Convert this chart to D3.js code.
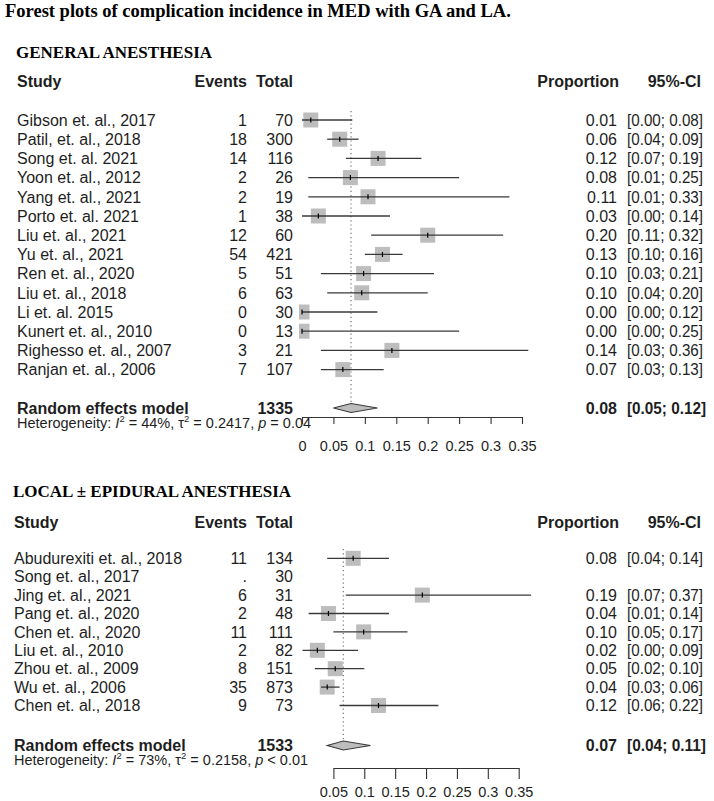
<!DOCTYPE html>
<html><head><meta charset="utf-8">
<script src="https://cdn.jsdelivr.net/npm/d3@7"></script>
<style>body{margin:0;background:#fff}svg{display:block;background:#fff}</style>
</head><body><svg id="chart" width="714" height="801"></svg>
<script>
// ---------------- DATA ----------------
const chartTitle = "Forest plots of complication incidence in MED with GA and LA.";
const colHeaders = ["Study", "Events", "Total", "Proportion", "95%-CI"];
const pooledName = "Random effects model";

// General anesthesia
const gaTitle = "GENERAL ANESTHESIA";
const gaStudies = ["Gibson et. al., 2017", "Patil, et. al., 2018", "Song et. al. 2021", "Yoon et. al., 2012", "Yang et. al., 2021", "Porto et. al. 2021", "Liu et. al., 2021", "Yu et. al., 2021", "Ren et. al., 2020", "Liu et. al., 2018", "Li et. al. 2015", "Kunert et. al., 2010", "Righesso et. al., 2007", "Ranjan et. al., 2006"];
const gaEvents = ["1", "18", "14", "2", "2", "1", "12", "54", "5", "6", "0", "0", "3", "7"];
const gaTotals = ["70", "300", "116", "26", "19", "38", "60", "421", "51", "63", "30", "13", "21", "107"];
const gaEst = [0.014, 0.060, 0.121, 0.077, 0.105, 0.026, 0.200, 0.128, 0.098, 0.095, 0.000, 0.000, 0.143, 0.065];
const gaLower = [0.00, 0.04, 0.07, 0.01, 0.01, 0.00, 0.11, 0.10, 0.03, 0.04, 0.00, 0.00, 0.03, 0.03];
const gaUpper = [0.08, 0.09, 0.19, 0.25, 0.33, 0.14, 0.32, 0.16, 0.21, 0.20, 0.12, 0.25, 0.36, 0.13];
const gaPropLabels = ["0.01", "0.06", "0.12", "0.08", "0.11", "0.03", "0.20", "0.13", "0.10", "0.10", "0.00", "0.00", "0.14", "0.07"];
const gaCILabels = ["[0.00; 0.08]", "[0.04; 0.09]", "[0.07; 0.19]", "[0.01; 0.25]", "[0.01; 0.33]", "[0.00; 0.14]", "[0.11; 0.32]", "[0.10; 0.16]", "[0.03; 0.21]", "[0.04; 0.20]", "[0.00; 0.12]", "[0.00; 0.25]", "[0.03; 0.36]", "[0.03; 0.13]"];
const gaPooledTotal = "1335";
const gaPooledEst = 0.078, gaPooledLower = 0.05, gaPooledUpper = 0.12;
const gaPooledLabel = "0.08", gaPooledCI = "[0.05; 0.12]";
const gaHetI2 = "44%", gaHetTau2 = "0.2417", gaHetP = "= 0.04";
const gaTicks = [0, 0.05, 0.1, 0.15, 0.2, 0.25, 0.3, 0.35];
const gaTickLabels = ["0", "0.05", "0.1", "0.15", "0.2", "0.25", "0.3", "0.35"];

// Local ± epidural anesthesia
const laTitle = "LOCAL ± EPIDURAL ANESTHESIA";
const laStudies = ["Abudurexiti et. al., 2018", "Song et. al., 2017", "Jing et. al., 2021", "Pang et. al., 2020", "Chen et. al., 2020", "Liu et. al., 2010", "Zhou et. al., 2009", "Wu et. al., 2006", "Chen et. al., 2018"];
const laEvents = ["11", ".", "6", "2", "11", "2", "8", "35", "9"];
const laTotals = ["134", "30", "31", "48", "111", "82", "151", "873", "73"];
const laEst = [0.082, null, 0.194, 0.042, 0.099, 0.024, 0.053, 0.040, 0.123];
const laLower = [0.04, null, 0.07, 0.01, 0.05, 0.00, 0.02, 0.03, 0.06];
const laUpper = [0.14, null, 0.37, 0.14, 0.17, 0.09, 0.10, 0.06, 0.22];
const laPropLabels = ["0.08", "", "0.19", "0.04", "0.10", "0.02", "0.05", "0.04", "0.12"];
const laCILabels = ["[0.04; 0.14]", "", "[0.07; 0.37]", "[0.01; 0.14]", "[0.05; 0.17]", "[0.00; 0.09]", "[0.02; 0.10]", "[0.03; 0.06]", "[0.06; 0.22]"];
const laPooledTotal = "1533";
const laPooledEst = 0.066, laPooledLower = 0.04, laPooledUpper = 0.11;
const laPooledLabel = "0.07", laPooledCI = "[0.04; 0.11]";
const laHetI2 = "73%", laHetTau2 = "0.2158", laHetP = "< 0.01";
const laTicks = [0.05, 0.1, 0.15, 0.2, 0.25, 0.3, 0.35];
const laTickLabels = ["0.05", "0.1", "0.15", "0.2", "0.25", "0.3", "0.35"];

// ---------------- DRAWING ----------------
const svg = d3.select("#chart");
const SANS = "'Liberation Sans', Arial, Helvetica, sans-serif";
const SERIF = "'Liberation Serif', 'Times New Roman', serif";
const TXT = "#1e1e1e";

svg.append("text").attr("x", 5).attr("y", 16.5)
  .attr("font-family", SERIF).attr("font-weight", "bold").attr("font-size", 18.5)
  .attr("fill", "#000").text(chartTitle);

function drawPanel(p, L) {
  const g = svg.append("g");
  const x = d3.scaleLinear().domain([0, 0.35]).range(L.xRange);
  const rowY = d3.scaleLinear().domain([0, 1]).range([L.row0, L.row0 + L.step]);
  const n = p.studies.length;
  const base = 5.7;

  g.append("text").attr("x", L.left - 1).attr("y", L.titleY)
    .attr("font-family", SERIF).attr("font-weight", "bold").attr("font-size", 17)
    .attr("fill", "#000").text(p.title);

  const hdr = g.append("g").attr("font-family", SANS).attr("font-weight", "bold")
    .attr("font-size", 16).attr("fill", TXT);
  hdr.append("text").attr("x", L.left).attr("y", L.headerY).text(colHeaders[0]);
  hdr.append("text").attr("x", L.evX).attr("y", L.headerY).attr("text-anchor", "end").text(colHeaders[1]);
  hdr.append("text").attr("x", L.totX).attr("y", L.headerY).attr("text-anchor", "end").text(colHeaders[2]);
  hdr.append("text").attr("x", L.propX + 2).attr("y", L.headerY).attr("text-anchor", "end").text(colHeaders[3]);
  hdr.append("text").attr("x", L.ciEnd - 2).attr("y", L.headerY).attr("text-anchor", "end").text(colHeaders[4]);

  const idx = d3.range(n);
  const rows = g.append("g").attr("font-family", SANS).attr("font-size", 16).attr("fill", TXT);
  rows.selectAll("text.st").data(idx).join("text").attr("class", "st")
    .attr("x", L.left).attr("y", i => rowY(i) + base).text(i => p.studies[i]);
  rows.selectAll("text.ev").data(idx).join("text").attr("class", "ev")
    .attr("x", L.evX).attr("y", i => rowY(i) + base).attr("text-anchor", "end").text(i => p.events[i]);
  rows.selectAll("text.tt").data(idx).join("text").attr("class", "tt")
    .attr("x", L.totX).attr("y", i => rowY(i) + base).attr("text-anchor", "end").text(i => p.totals[i]);
  rows.selectAll("text.pr").data(idx).join("text").attr("class", "pr")
    .attr("x", L.propX).attr("y", i => rowY(i) + base).attr("text-anchor", "end").text(i => p.prop[i]);
  rows.selectAll("text.ci").data(idx.filter(i => p.ci[i] !== "")).join("text").attr("class", "ci")
    .attr("x", L.ciStart).attr("y", i => rowY(i) + base)
    .attr("textLength", L.ciEnd - L.ciStart).attr("lengthAdjust", "spacingAndGlyphs")
    .text(i => p.ci[i]);

  // reference dotted line
  g.append("line").attr("x1", x(p.pooledEst)).attr("x2", x(p.pooledEst))
    .attr("y1", L.dotTop).attr("y2", L.pooledY - 4.5)
    .attr("stroke", "#666").attr("stroke-width", 1.1).attr("stroke-dasharray", "1.2,3");

  // squares (clipped at the left edge of plot region)
  const clipId = "clip" + L.id;
  svg.append("clipPath").attr("id", clipId).append("rect")
    .attr("x", x(0) - 3).attr("y", 0).attr("width", 714).attr("height", 801);
  const valid = idx.filter(i => p.est[i] !== null);
  const sq = 15;
  g.append("g").attr("clip-path", `url(#${clipId})`).selectAll("rect").data(valid).join("rect")
    .attr("x", i => x(p.est[i]) - sq / 2).attr("y", i => rowY(i) - sq / 2)
    .attr("width", sq).attr("height", sq).attr("fill", "#bdbdbd");
  g.append("g").selectAll("line").data(valid).join("line")
    .attr("x1", i => x(p.lower[i])).attr("x2", i => x(p.upper[i]))
    .attr("y1", i => rowY(i)).attr("y2", i => rowY(i))
    .attr("stroke", "#3a3a3a").attr("stroke-width", 1.3);
  g.append("g").selectAll("line").data(valid).join("line")
    .attr("x1", i => x(p.est[i])).attr("x2", i => x(p.est[i]))
    .attr("y1", i => rowY(i) - 2.5).attr("y2", i => rowY(i) + 2.5)
    .attr("stroke", "#000").attr("stroke-width", 1.2);

  // pooled row
  const py = L.pooledY;
  const pb = g.append("g").attr("font-family", SANS).attr("font-weight", "bold")
    .attr("font-size", 16).attr("fill", TXT);
  pb.append("text").attr("x", L.left).attr("y", py + base).text(pooledName);
  pb.append("text").attr("x", L.totX).attr("y", py + base).attr("text-anchor", "end").text(p.pooledTotal);
  pb.append("text").attr("x", L.propX).attr("y", py + base).attr("text-anchor", "end").text(p.pooledLabel);
  pb.append("text").attr("x", L.ciStart).attr("y", py + base)
    .attr("textLength", L.ciEnd - L.ciStart + 3).attr("lengthAdjust", "spacingAndGlyphs").text(p.pooledCI);
  const dh = 4.5;
  g.append("path")
    .attr("d", `M${x(p.pooledLower)},${py} L${x(p.pooledEst)},${py - dh} L${x(p.pooledUpper)},${py} L${x(p.pooledEst)},${py + dh} Z`)
    .attr("fill", "#bdbdbd").attr("stroke", "#3a3a3a").attr("stroke-width", 1.1);

  // heterogeneity
  const het = g.append("text").attr("x", L.left).attr("y", L.hetY)
    .attr("font-family", SANS).attr("font-size", 14.5).attr("fill", TXT);
  het.append("tspan").text("Heterogeneity: ");
  het.append("tspan").attr("font-style", "italic").text("I");
  het.append("tspan").attr("font-size", 9.5).attr("dy", -6).text("2");
  het.append("tspan").attr("dy", 6).text(" = " + p.hetI2 + ", \u03C4");
  het.append("tspan").attr("font-size", 9.5).attr("dy", -6).text("2");
  het.append("tspan").attr("dy", 6).text(" = " + p.hetTau2 + ", ");
  het.append("tspan").attr("font-style", "italic").text("p");
  het.append("tspan").text(" " + p.hetP);

  // axis
  const tv = p.ticks;
  const ax = x.copy().domain([tv[0], tv[tv.length - 1]]).range([x(tv[0]), x(tv[tv.length - 1])]);
  const axis = d3.axisBottom(ax).tickValues(tv).tickSizeInner(L.tickSize).tickSizeOuter(0)
    .tickPadding(L.tickPad).tickFormat((d, i) => p.tickLabels[i]);
  const ag = g.append("g").attr("transform", `translate(0,${L.axisY})`).call(axis);
  ag.select(".domain").attr("stroke", "#333").attr("stroke-width", 1.1);
  ag.selectAll(".tick line").attr("stroke", "#333").attr("stroke-width", 1.1);
  ag.selectAll(".tick text").attr("font-family", SANS).attr("font-size", 14.5).attr("fill", TXT);
}

drawPanel({
  title: gaTitle, studies: gaStudies, events: gaEvents, totals: gaTotals, est: gaEst,
  lower: gaLower, upper: gaUpper, prop: gaPropLabels, ci: gaCILabels,
  pooledTotal: gaPooledTotal, pooledEst: gaPooledEst, pooledLower: gaPooledLower, pooledUpper: gaPooledUpper,
  pooledLabel: gaPooledLabel, pooledCI: gaPooledCI, hetI2: gaHetI2, hetTau2: gaHetTau2, hetP: gaHetP,
  ticks: gaTicks, tickLabels: gaTickLabels
}, {
  id: "ga", xRange: [302, 522], left: 17, evX: 247, totX: 293, propX: 617, ciStart: 627, ciEnd: 703,
  titleY: 58, headerY: 87, row0: 120, step: 19.2, pooledY: 408, hetY: 428,
  axisY: 417, tickSize: 7, tickPad: 17, dotTop: 111
});

drawPanel({
  title: laTitle, studies: laStudies, events: laEvents, totals: laTotals, est: laEst,
  lower: laLower, upper: laUpper, prop: laPropLabels, ci: laCILabels,
  pooledTotal: laPooledTotal, pooledEst: laPooledEst, pooledLower: laPooledLower, pooledUpper: laPooledUpper,
  pooledLabel: laPooledLabel, pooledCI: laPooledCI, hetI2: laHetI2, hetTau2: laHetTau2, hetP: laHetP,
  ticks: laTicks, tickLabels: laTickLabels
}, {
  id: "la", xRange: [302.5, 518.7], left: 14, evX: 247, totX: 293, propX: 617, ciStart: 627, ciEnd: 703,
  titleY: 497, headerY: 528, row0: 558.3, step: 18.4, pooledY: 745.5, hetY: 765,
  axisY: 768, tickSize: 11, tickPad: 8, dotTop: 549
});
</script>
</body></html>
